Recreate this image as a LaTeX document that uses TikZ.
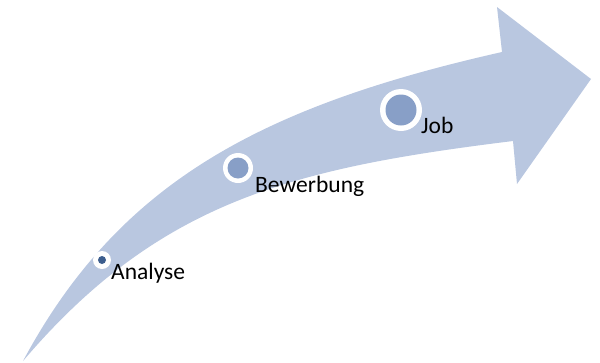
\documentclass[tikz,border=0pt]{standalone}
\usepackage{fontspec}
\setmainfont{Carlito}
\definecolor{arrowfill}{HTML}{B9C7E0}
\definecolor{dotfill}{HTML}{889FC7}
\definecolor{darkdot}{HTML}{3D5E8E}
\tikzset{
  ring/.style={circle, fill=white, inner sep=0pt},
  dot/.style={circle, fill=dotfill, inner sep=0pt},
  lbl/.style={anchor=base west, inner sep=0pt, font=\fontsize{23.5}{28}\selectfont, text=black}
}
\begin{document}
\begin{tikzpicture}[x=1pt,y=-1pt]
\useasboundingbox (0,0) rectangle (600,362);
\coordinate (tail) at (23,361);
\coordinate (t1) at (502,52);
\coordinate (h1) at (497,7);
\coordinate (tip) at (591,79);
\coordinate (h2) at (517,184);
\coordinate (b1) at (513,141);
\fill[arrowfill] (tail) .. controls (118,184) and (258,107) .. (t1) -- (h1) -- (tip) -- (h2) -- (b1) .. controls (295,168) and (160,200) .. (tail) -- cycle;
% Analyse
\node[ring, minimum size=18pt] (r1) at (102,260) {};
\node[circle, fill=darkdot, inner sep=0pt, minimum size=8pt] (d1) at (r1.center) {};
\node[lbl] (l1) at (111,279) {Analyse};
% Bewerbung
\node[ring, minimum size=30pt] (r2) at (238,168) {};
\node[dot, minimum size=21pt] (d2) at (r2.center) {};
\node[lbl] (l2) at (255,192) {Bewerbung};
% Job
\node[ring, minimum size=42pt] (r3) at (401,110) {};
\node[dot, minimum size=31pt] (d3) at (r3.center) {};
\node[lbl] (l3) at (421,133) {Job};
\end{tikzpicture}
\end{document}
